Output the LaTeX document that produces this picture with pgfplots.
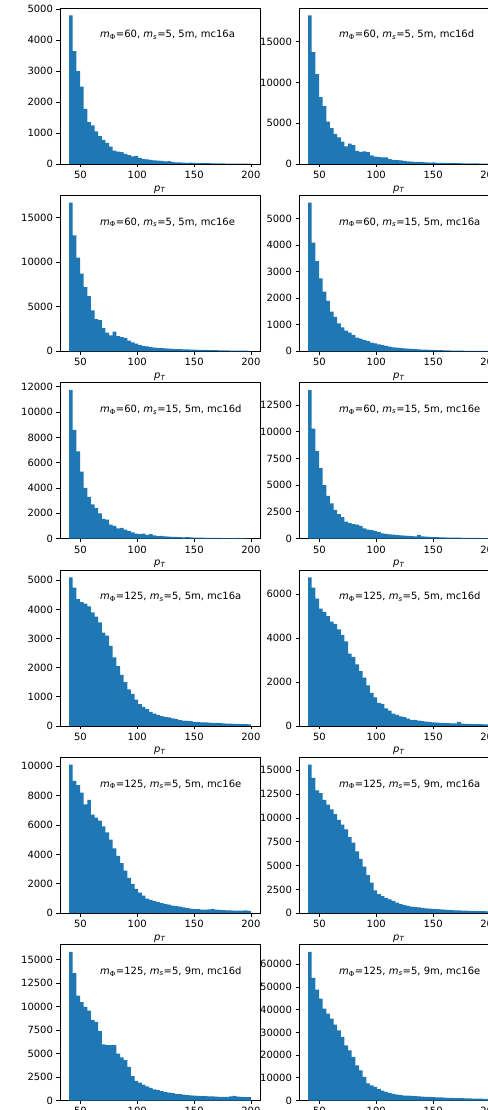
\documentclass[border=0pt]{standalone}
\usepackage{fontspec}
\setmainfont{DejaVu Sans}
\usepackage{pgfplots}
\usepackage{pgfplotstable}
\pgfplotsset{compat=1.18}
\definecolor{c0}{HTML}{1F77B4}

% 50 bins of 3.2 from 40 to 200; last row repeats the last bin so const plot closes at 200
\pgfplotstableread{
x     h1   h2    h3    h4   h5    h6    h7   h8   h9    h10   h11   h12
40    4800 18200 16670 5600 11740 13900 5100 6770 10100 15600 15850 65400
43.2  3650 13700 13000 4100 8600  10300 4750 6300 9000  14200 13600 54000
46.4  3000 11000 10500 3400 6900  8200  4350 5800 8700  12900 11200 48800
49.6  2500 8200  8700  2750 5300  6600  4250 5350 8200  12600 10500 44900
52.8  1780 7100  7200  2250 4000  5000  4200 5200 7400  11900 10000 40500
56    1350 5200  6200  1900 3300  4000  4100 5000 7700  11400 9600  38300
59.2  1250 4400  4600  1500 2700  3300  3900 4750 6700  10900 8600  36100
62.4  1050 3700  3600  1300 2400  2700  3750 4650 6500  10400 8400  33400
65.6  900  3250  3500  1050 2000  2300  3550 4400 6300  9800  7400  30900
68.8  780  2750  2600  900  1550  2000  3200 4150 5900  9300  6000  28000
72    680  2150  2100  780  1500  1600  3100 3850 5500  8800  5900  24300
75.2  560  2500  1800  700  1100  1450  2750 3300 5000  8000  5900  22100
78.4  430  2300  2200  620  1000  1350  2350 3150 4400  7400  5900  19200
81.6  400  1600  1700  520  800   1300  2050 2800 3900  6500  5000  15500
84.8  380  1500  1600  480  850   1200  1750 2500 3400  5700  4600  13300
88    330  1550  1500  420  700   950   1500 2200 2900  4900  4300  10400
91.2  290  1450  1200  380  600   850   1250 1850 2400  4000  3600  7500
94.4  250  1050  1000  330  500   800   1100 1500 2000  3200  2600  6700
97.6  260  900   850   300  400   700   900  1300 1650  2400  2100  6000
100.8 200  850   700   260  350   600   750  1050 1400  2000  1900  5000
104   160  800   600   230  400   500   650  1000 1200  1800  1700  4300
107.2 150  820   550   200  300   450   580  800  1000  1600  1500  3800
110.4 130  600   480   180  350   400   480  700  900   1450  1350  3300
113.6 120  500   420   150  250   370   420  560  820   1300  1200  2900
116.8 110  480   380   140  200   330   380  500  750   1100  1100  2600
120   100  450   350   120  220   300   340  430  680   950   1000  2400
123.2 85   380   320   110  180   270   310  400  620   850   900   2200
126.4 90   330   300   100  150   250   290  330  580   760   850   2100
129.6 65   300   270   90   130   230   260  280  520   700   780   2000
132.8 55   270   250   80   140   220   230  270  480   650   720   1900
136   50   250   240   70   110   320   200  240  440   600   670   1800
139.2 45   230   220   65   100   200   180  220  400   560   620   1700
142.4 40   200   210   60   120   180   170  190  350   520   580   1650
145.6 42   180   200   55   90    160   160  180  310   490   550   1600
148.8 35   200   190   50   80    150   140  160  280   450   530   1500
152   30   150   170   45   85    140   130  150  270   420   500   1400
155.2 28   140   160   40   70    120   125  140  250   400   480   1350
158.4 32   130   150   38   65    110   120  130  240   380   460   1300
161.6 25   120   140   35   60    100   110  125  260   350   450   1200
164.8 22   110   130   30   55    95    105  115  300   330   430   1150
168   20   100   120   28   50    90    100  110  250   310   420   1100
171.2 18   95    110   25   48    85    95   180  220   290   400   1050
174.4 20   90    105   22   45    80    90   100  210   280   380   1000
177.6 15   85    100   20   40    75    80   95   200   260   400   950
180.8 14   80    90    20   38    70    75   90   190   250   450   900
184   16   70    85    18   35    65    70   85   180   240   500   850
187.2 12   65    80    16   60    60    70   80   170   230   420   800
190.4 10   60    70    15   30    55    65   80   180   220   380   780
193.6 12   60    65    14   28    50    60   75   200   210   360   750
196.8 10   55    60    12   25    45    55   70   160   200   350   720
200   10   55    60    12   25    45    55   70   160   200   350   720
}\hdata

\pgfplotsset{
  hist/.style={
    width=200pt, height=156pt, scale only axis, anchor=south west,
    xmin=32, xmax=208, ymin=0,
    xtick={50,100,150,200},
    tick align=outside, xtick pos=left, ytick pos=left,
    major tick length=3.5pt,
    axis line style={line width=0.8pt},
    every tick/.style={line width=0.8pt, black},
    scaled y ticks=false,
    /pgf/number format/1000 sep={},
    /pgf/number format/assume math mode=true,
    tick label style={font=\fontsize{10}{12}\selectfont},
    label style={font=\fontsize{10}{12}\selectfont},
    xlabel={\textit{p}\textsubscript{\textit{T}}},
  },
  hbar/.style={const plot, fill=c0, draw=none},
}
\tikzset{ptitle/.style={anchor=west, font=\fontsize{10}{12}\selectfont, inner sep=0pt}}
\newcommand{\lab}[4]{\textit{m}\textsubscript{Φ}=#1, \textit{m}\textsubscript{\textit{s}}=#2, #3, #4}

\begin{document}
\begin{tikzpicture}
% fixed page: the right column and the last tick labels run off it
\useasboundingbox (0pt,0pt) rectangle (487pt,-1110pt);

% row 1
\begin{axis}[hist, at={(60pt,-164pt)}, ymax=5040, ytick={0,1000,2000,3000,4000,5000}]
\addplot[hbar] table[x=x,y=h1]{\hdata} \closedcycle;
\node[ptitle] at (rel axis cs:0.2,0.827) {\lab{60}{5}{5m}{mc16a}};
\end{axis}
\begin{axis}[hist, at={(299pt,-164pt)}, ymax=19110, ytick={0,5000,10000,15000}]
\addplot[hbar] table[x=x,y=h2]{\hdata} \closedcycle;
\node[ptitle] at (rel axis cs:0.2,0.827) {\lab{60}{5}{5m}{mc16d}};
\end{axis}

% row 2
\begin{axis}[hist, at={(60pt,-351.3pt)}, ymax=17500, ytick={0,5000,10000,15000}]
\addplot[hbar] table[x=x,y=h3]{\hdata} \closedcycle;
\node[ptitle] at (rel axis cs:0.2,0.827) {\lab{60}{5}{5m}{mc16e}};
\end{axis}
\begin{axis}[hist, at={(299pt,-351.3pt)}, ymax=5880, ytick={0,1000,2000,3000,4000,5000}]
\addplot[hbar] table[x=x,y=h4]{\hdata} \closedcycle;
\node[ptitle] at (rel axis cs:0.2,0.827) {\lab{60}{15}{5m}{mc16a}};
\end{axis}

% row 3
\begin{axis}[hist, at={(60pt,-538.6pt)}, ymax=12330, ytick={0,2000,4000,6000,8000,10000,12000}]
\addplot[hbar] table[x=x,y=h5]{\hdata} \closedcycle;
\node[ptitle] at (rel axis cs:0.2,0.827) {\lab{60}{15}{5m}{mc16d}};
\end{axis}
\begin{axis}[hist, at={(299pt,-538.6pt)}, ymax=14600, ytick={0,2500,5000,7500,10000,12500}]
\addplot[hbar] table[x=x,y=h6]{\hdata} \closedcycle;
\node[ptitle] at (rel axis cs:0.2,0.827) {\lab{60}{15}{5m}{mc16e}};
\end{axis}

% row 4
\begin{axis}[hist, at={(60pt,-725.9pt)}, ymax=5355, ytick={0,1000,2000,3000,4000,5000}]
\addplot[hbar] table[x=x,y=h7]{\hdata} \closedcycle;
\node[ptitle] at (rel axis cs:0.2,0.827) {\lab{125}{5}{5m}{mc16a}};
\end{axis}
\begin{axis}[hist, at={(299pt,-725.9pt)}, ymax=7110, ytick={0,2000,4000,6000}]
\addplot[hbar] table[x=x,y=h8]{\hdata} \closedcycle;
\node[ptitle] at (rel axis cs:0.2,0.827) {\lab{125}{5}{5m}{mc16d}};
\end{axis}

% row 5
\begin{axis}[hist, at={(60pt,-913.2pt)}, ymax=10605, ytick={0,2000,4000,6000,8000,10000}]
\addplot[hbar] table[x=x,y=h9]{\hdata} \closedcycle;
\node[ptitle] at (rel axis cs:0.2,0.827) {\lab{125}{5}{5m}{mc16e}};
\end{axis}
\begin{axis}[hist, at={(299pt,-913.2pt)}, ymax=16380, ytick={0,2500,5000,7500,10000,12500,15000}]
\addplot[hbar] table[x=x,y=h10]{\hdata} \closedcycle;
\node[ptitle] at (rel axis cs:0.2,0.827) {\lab{125}{5}{9m}{mc16a}};
\end{axis}

% row 6
\begin{axis}[hist, at={(60pt,-1100.5pt)}, ymax=16640, ytick={0,2500,5000,7500,10000,12500,15000}]
\addplot[hbar] table[x=x,y=h11]{\hdata} \closedcycle;
\node[ptitle] at (rel axis cs:0.2,0.827) {\lab{125}{5}{9m}{mc16d}};
\end{axis}
\begin{axis}[hist, at={(299pt,-1100.5pt)}, ymax=68670, ytick={0,10000,20000,30000,40000,50000,60000}]
\addplot[hbar] table[x=x,y=h12]{\hdata} \closedcycle;
\node[ptitle] at (rel axis cs:0.2,0.827) {\lab{125}{5}{9m}{mc16e}};
\end{axis}
\end{tikzpicture}
\end{document}
